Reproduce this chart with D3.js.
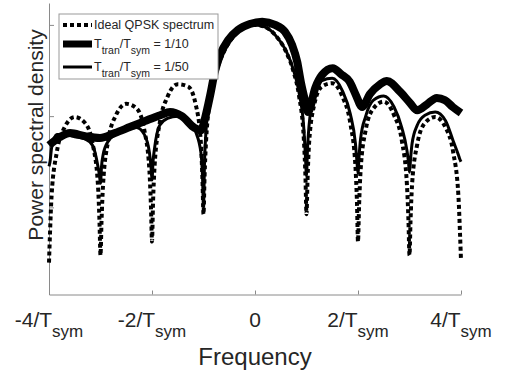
<!DOCTYPE html>
<html>
<head>
<meta charset="utf-8">
<script src="https://cdn.jsdelivr.net/npm/d3@7"></script>
<style>
  html, body { margin: 0; padding: 0; background: #fff; }
  svg { display: block; font-family: "Liberation Sans", Arial, sans-serif; }
</style>
</head>
<body>
<svg id="chart" width="507" height="383"></svg>
<script>
// frequency grid in units of 1/Tsym, shared by the ideal and 1/50 curves
const freq = [
  -4, -3.98, -3.95, -3.85, -3.7, -3.5, -3.3, -3.15, -3.05, -3.02,
  -3, -2.98, -2.95, -2.85, -2.7, -2.5, -2.3, -2.15, -2.05, -2.02,
  -2, -1.98, -1.95, -1.85, -1.7, -1.5, -1.3, -1.15, -1.05, -1.02,
  -1, -0.98, -0.95, -0.85, -0.75, -0.6, -0.4, -0.2,
  0, 0.2, 0.4, 0.6, 0.75, 0.85, 0.95, 0.98,
  1, 1.02, 1.05, 1.15, 1.3, 1.5, 1.7, 1.85, 1.95, 1.98,
  2, 2.02, 2.05, 2.15, 2.3, 2.5, 2.7, 2.85, 2.95, 2.98,
  3, 3.02, 3.05, 3.15, 3.3, 3.5, 3.7, 3.85, 3.95, 3.98,
  4
];

// ideal QPSK spectrum, dB
const psdIdeal = [
  -52.1, -45.5, -37.5, -28, -22.5, -20.2, -21.5, -26.2, -35, -43,
  -50.5, -43, -35, -25.3, -19.8, -17.3, -18.3, -23, -32, -40,
  -47.5, -39, -31, -21.5, -15.8, -13, -13.5, -17.5, -26, -34,
  -41.5, -33.5, -25.4, -15.2, -10.3, -5.8, -2.3, -0.5,
  0, -0.5, -2.3, -5.8, -10.3, -15.2, -25.4, -33.5,
  -41.5, -34, -26, -17.5, -13.5, -12.8, -15.8, -21.5, -31, -39,
  -47.5, -40, -32, -23, -18.3, -16.8, -19.8, -25.3, -35, -43,
  -50.5, -43, -35, -26.2, -21.5, -20.2, -22.5, -28, -37.5, -45.5,
  -51.6
];

// Ttran/Tsym = 1/50, dB
const psd50 = [
  -31, -30, -27, -24, -24, -24.5, -25, -26.5, -31, -33,
  -34.7, -31, -28.5, -25.5, -24, -23, -22.5, -24, -28, -31,
  -34, -30, -27, -22, -20.5, -20, -21, -23.5, -28, -33,
  -40, -30, -23, -14.5, -10, -5.6, -2.3, -0.5,
  0, -0.5, -2.3, -5.6, -10, -14.5, -23, -29,
  -33, -27, -22, -15.5, -12.2, -11.7, -14.5, -19.5, -26, -30,
  -32.5, -29, -25, -20, -16.5, -15.6, -18, -22.5, -27.5, -30,
  -32.3, -29.5, -26, -22, -19.8, -19.1, -21, -25.5, -28.5, -29.5,
  -30
];

// Ttran/Tsym = 1/10, its own grid
const freq10 = [
  -4, -3.79, -3.59, -3.3, -3.01, -2.72, -2.43, -2.14, -1.84, -1.65,
  -1.42, -1.17, -1.05, -0.97, -0.87, -0.78, -0.68, -0.52, -0.33, -0.1,
  0.14, 0.39, 0.58, 0.72, 0.82, 0.89, 0.97, 1.03, 1.17, 1.3,
  1.51, 1.67, 1.84, 1.96, 2.08, 2.23, 2.43, 2.56, 2.82, 3.01,
  3.15, 3.34, 3.53, 3.69, 3.84, 4
];
const psd10 = [
  -26.4, -24.6, -23.7, -24.4, -24.8, -23.7, -22.4, -21.1, -19.8, -19.1,
  -20, -22.6, -23.1, -20.4, -15.4, -10.3, -6.6, -3.3, -1.1, 0.2,
  0.7, 0, -1.5, -4.4, -8.1, -12.5, -16.5, -19.1, -13.8, -11,
  -9.5, -10.8, -12.5, -15.4, -18, -15.2, -13, -12.3, -14.7, -17.1,
  -18.7, -17.4, -16, -16.5, -18, -19.3
];

const xTicks = [-4, -2, 0, 2, 4];
const xTickLabels = ['-4/T_{sym}', '-2/T_{sym}', '0', '2/T_{sym}', '4/T_{sym}'];
const yTicks = [0, -20, -40];
const legendLabels = ['Ideal QPSK spectrum', 'T_{tran}/T_{sym} = 1/10', 'T_{tran}/T_{sym} = 1/50'];

const svg = d3.select('#chart');
const textColor = '#262626';
const axisColor = '#8a8a8a';

const x = d3.scaleLinear().domain([-4, 4]).range([49, 461]);
const y = d3.scaleLinear().domain([-59.1, 4.8]).range([294.5, 3]);

// text with _{...} subscripts
function rich(sel, str, subSize, shift) {
  const parts = str.split(/_\{([^}]*)\}/);
  let down = false;
  parts.forEach((p, i) => {
    if (!p) return;
    const t = sel.append('tspan').text(p);
    if (i % 2 === 1) {
      t.attr('font-size', subSize).attr('dy', down ? 0 : shift);
      down = true;
    } else {
      t.attr('dy', down ? -shift : 0);
      down = false;
    }
  });
}

// axes
const xAxis = svg.append('g')
  .attr('transform', `translate(0,${y.range()[0]})`)
  .call(d3.axisBottom(x).tickValues(xTicks).tickSize(-4).tickSizeOuter(0).tickFormat(''));
const yAxis = svg.append('g')
  .attr('transform', `translate(${x.range()[0]},0)`)
  .call(d3.axisLeft(y).tickValues(yTicks).tickSize(-5).tickSizeOuter(0).tickFormat(''));
[xAxis, yAxis].forEach(a => {
  a.select('.domain').attr('stroke', axisColor);
  a.selectAll('.tick line').attr('stroke', axisColor);
});

// tick labels
xTickLabels.forEach((lab, i) => {
  const t = svg.append('text')
    .attr('x', x(xTicks[i]))
    .attr('y', 327)
    .attr('text-anchor', 'middle')
    .attr('font-size', 21)
    .attr('fill', textColor);
  rich(t, lab, 17, 10);
});

svg.append('text')
  .attr('x', 255)
  .attr('y', 365)
  .attr('text-anchor', 'middle')
  .attr('font-size', 24)
  .attr('fill', textColor)
  .text('Frequency');

svg.append('text')
  .attr('transform', 'translate(43,135) rotate(-90)')
  .attr('text-anchor', 'middle')
  .attr('font-size', 21)
  .attr('fill', textColor)
  .text('Power spectral density');

// curves
const line = d3.line()
  .x(d => x(d[0]))
  .y(d => y(d[1]))
  .curve(d3.curveMonotoneX);

const plot = svg.append('g');

plot.append('path')
  .datum(d3.zip(freq, psdIdeal))
  .attr('fill', 'none')
  .attr('stroke', '#000')
  .attr('stroke-width', 4)
  .attr('stroke-dasharray', '4,3')
  .attr('d', line);

plot.append('path')
  .datum(d3.zip(freq10, psd10))
  .attr('fill', 'none')
  .attr('stroke', '#000')
  .attr('stroke-width', 8)
  .attr('stroke-linejoin', 'round')
  .attr('d', line);

plot.append('path')
  .datum(d3.zip(freq, psd50))
  .attr('fill', 'none')
  .attr('stroke', '#000')
  .attr('stroke-width', 3)
  .attr('stroke-linejoin', 'round')
  .attr('d', line);

// legend
const legend = svg.append('g');
legend.append('rect')
  .attr('x', 59).attr('y', 14)
  .attr('width', 159).attr('height', 65)
  .attr('fill', '#fff')
  .attr('stroke', '#999');

const rowY = [25, 44, 67];
const rowStyle = [
  { w: 4, dash: '4,3' },
  { w: 7, dash: null },
  { w: 3, dash: null }
];
legendLabels.forEach((lab, i) => {
  legend.append('line')
    .attr('x1', 63).attr('x2', 92)
    .attr('y1', rowY[i]).attr('y2', rowY[i])
    .attr('stroke', '#000')
    .attr('stroke-width', rowStyle[i].w)
    .attr('stroke-dasharray', rowStyle[i].dash);
  const t = legend.append('text')
    .attr('x', 94)
    .attr('y', rowY[i] + 3.5)
    .attr('font-size', 12.5)
    .attr('fill', textColor);
  rich(t, lab, 10.5, 6);
});
</script>
</body>
</html>
